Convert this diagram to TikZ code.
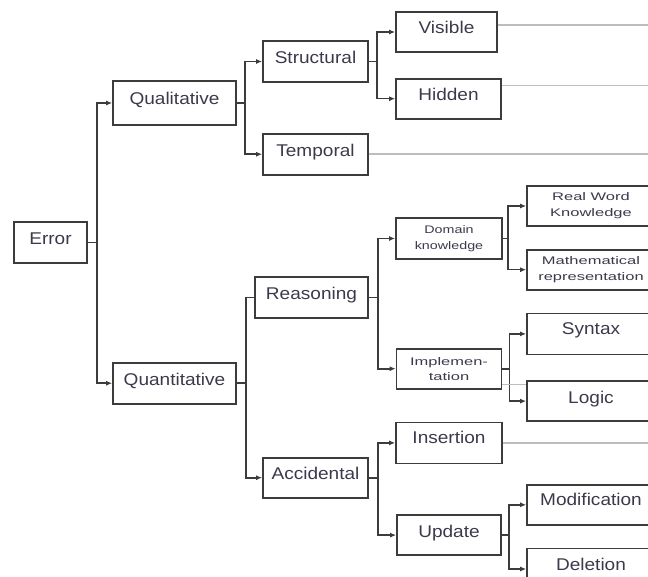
\documentclass[tikz,border=0pt]{standalone}
\usepackage{fontspec}
\setmainfont{Liberation Sans}[FakeStretch=1.12]
\newfontfamily\leaffont{Liberation Sans}[FakeStretch=1.5]
\newfontfamily\midfont{Liberation Sans}[FakeStretch=1.3]
\usetikzlibrary{positioning,arrows.meta}

\definecolor{boxline}{HTML}{3C3C3C}
\definecolor{boxtext}{HTML}{3A3A4C}
\definecolor{tailgray}{HTML}{BDBDBD}

\tikzset{
  frame/.style={draw=boxline,line width=1.7pt,rectangle,inner sep=0pt,
    minimum width=105pt,minimum height=40pt,text=boxtext},
  box/.style={frame,font=\fontsize{17}{20}\selectfont,text height=12pt,text depth=8pt},
  leaf/.style={frame,minimum width=128pt,align=center,
    font=\leaffont\fontsize{11}{16}\selectfont},
  mid/.style={frame,align=center,font=\midfont\fontsize{11}{16}\selectfont},
  fork/.style={draw=boxline,line width=1.6pt},
  tail/.style={draw=tailgray,line width=1.5pt}
}

\begin{document}
\begin{tikzpicture}[x=1pt,y=-1pt,>={Latex[length=6pt,width=5pt]}]
\clip (0,0) rectangle (648,577);
\coordinate (rim) at (648,0);

% first levels
\node[box,minimum width=73pt,minimum height=41pt] (error) at (50.5,242.5) {Error};
\node[box,minimum width=123pt,minimum height=44pt] (qual) at (174.5,103) {Qualitative};
\node[box,minimum width=123pt,minimum height=41pt] (quant) [below=236pt of qual] {Quantitative};
\node[box,minimum height=41pt] (struct) at (315.5,61.5) {Structural};
\node[box,minimum height=41pt] (temporal) [below=50pt of struct] {Temporal};
\node[box,minimum width=113pt,minimum height=41pt] (reasoning) at (311.5,297.5) {Reasoning};
\node[box] (accidental) [below=138pt of reasoning,xshift=4pt] {Accidental};

% third column
\node[box,minimum width=101pt] (visible) at (446.5,32) {Visible};
\node[box] (hidden) [below=25pt of visible,xshift=2pt] {Hidden};
\node[mid,minimum width=106pt,minimum height=41pt] (domain) at (449,238.5) {Domain\\knowledge};
\node[leaf,minimum width=105pt,font=\leaffont\fontsize{11}{15}\selectfont] (impl) [below=88pt of domain] {Implemen-\\tation};
\node[box,minimum width=106pt,minimum height=41pt,text depth=10pt] (insertion) [below=32pt of impl] {Insertion};
\node[box,minimum width=104pt] (update) [below=50pt of insertion] {Update};

% leaves
\node[leaf] (realword) at (591,206) {Real Word\\Knowledge};
\node[leaf] (math) [below=22pt of realword] {Mathematical\\representation};
\node[box,minimum width=128pt,minimum height=41pt,text depth=10pt] (syntax) [below=22pt of math] {Syntax};
\node[box,minimum width=128pt] (logic) [below=25pt of syntax] {Logic};
\node[box,minimum width=128pt,text depth=10pt] (modif) [below=62pt of logic] {Modification};
\node[box,minimum width=128pt,minimum height=41pt,text depth=10pt] (deletion) [below=22pt of modif] {Deletion};

% forks
\draw[fork,->] (error.east) -- ++(9,0) coordinate (t0) |- (qual.west);
\draw[fork,->] (t0) |- (quant.west);
\draw[fork,->] (qual.east) -- ++(8,0) coordinate (t1) |- (struct.west);
\draw[fork,->] (t1) |- (temporal.west);
\draw[fork] (quant.east) -- ++(9,0) coordinate (t2) |- (reasoning.west);
\draw[fork,->] (t2) |- (accidental.west);
\draw[fork,->] (struct.east) -- ++(8,0) coordinate (t3) |- (visible.west);
\draw[fork,->] (t3) |- (hidden.west);
\draw[fork,->] (reasoning.east) -- ++(9,0) coordinate (t4) |- (domain.west);
\draw[fork,->] (t4) |- (impl.west);
\draw[fork,->] (accidental.east) -- ++(9,0) coordinate (t5) |- (insertion.west);
\draw[fork,->] (t5) |- (update.west);
\draw[fork,->] (domain.east) -- ++(5,0) coordinate (t6) |- (realword.west);
\draw[fork,->] (t6) |- (math.west);
\draw[fork,->] (impl.east) -- ++(7,0) coordinate (t7) |- (syntax.west);
\draw[fork,->] (t7) |- (logic.west);
\draw[fork,->] (update.east) -- ++(7,0) coordinate (t8) |- (modif.west);
\draw[fork,->] (t8) |- (deletion.west);

% grey tails
\draw[tail] ([yshift=7pt]visible.east) coordinate (vt) -- (vt -| rim);
\draw[tail] ([yshift=13pt]hidden.east) coordinate (ht) -- (ht -| rim);
\draw[tail] (temporal.east) -- (temporal.east -| rim);
\draw[tail] (insertion.east) -- (insertion.east -| rim);
\draw[tail] ([yshift=5pt]impl.south east) coordinate (it) -- (it -| logic.west);
\end{tikzpicture}
\end{document}
